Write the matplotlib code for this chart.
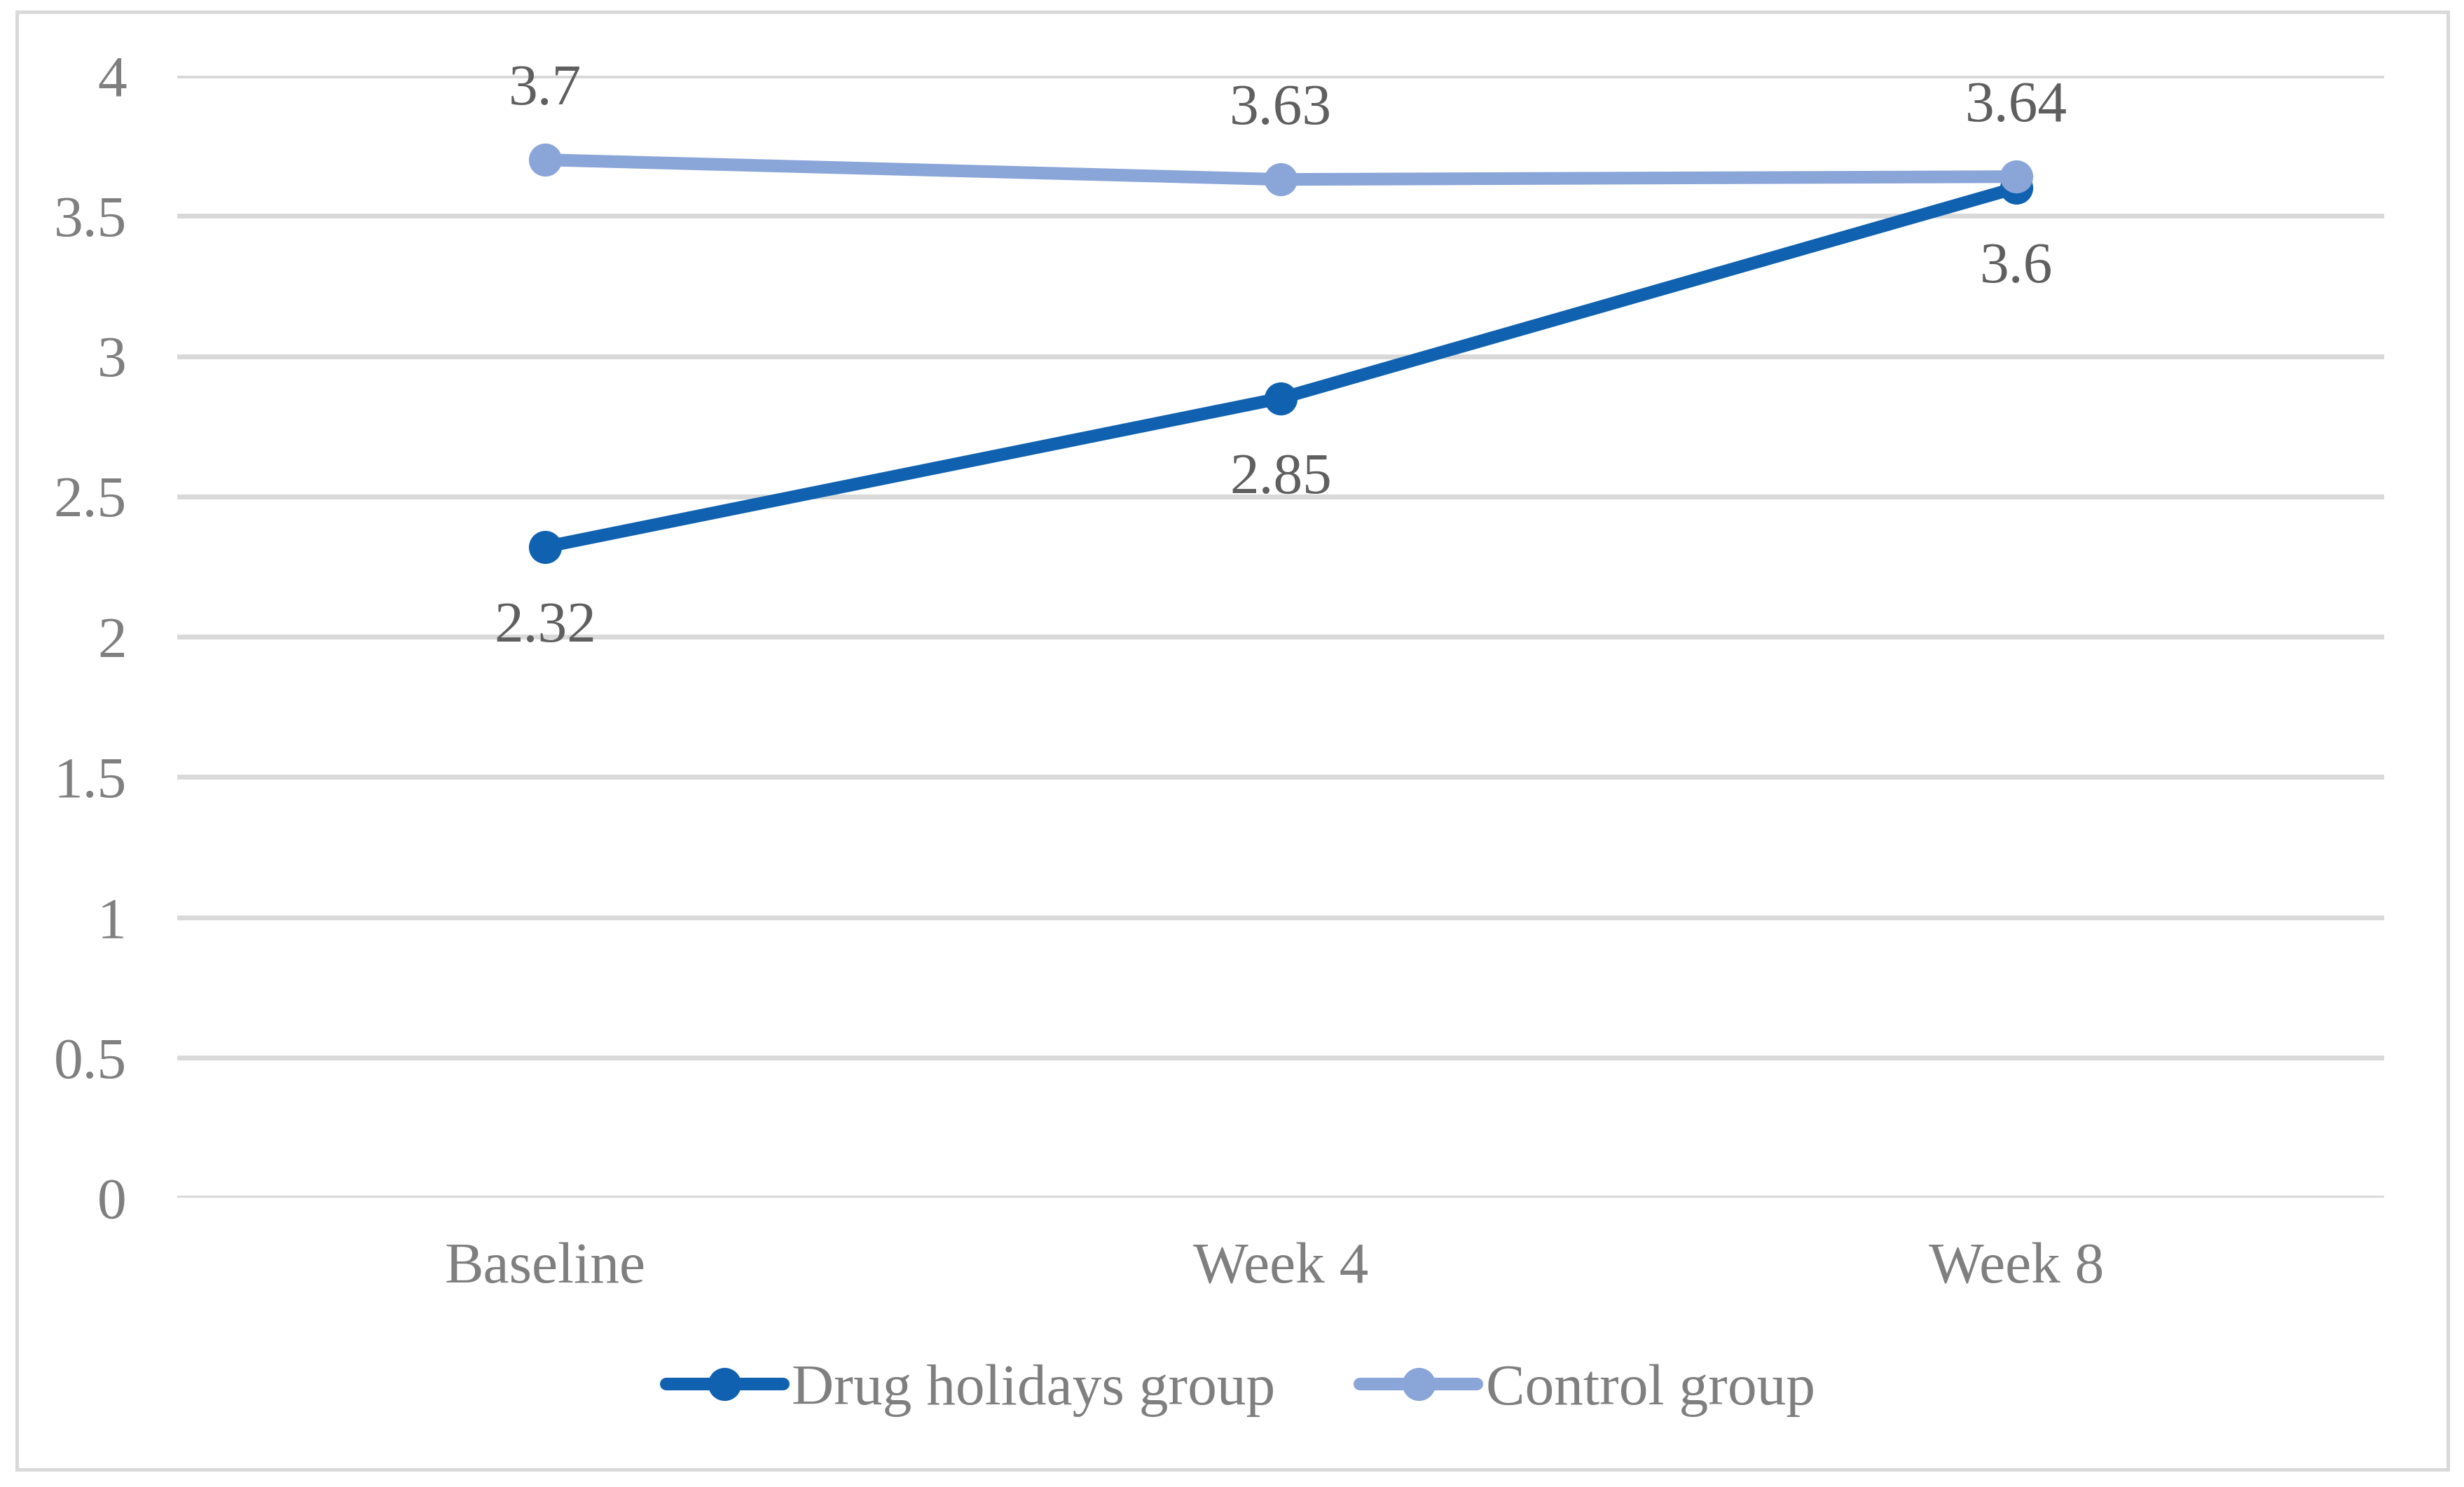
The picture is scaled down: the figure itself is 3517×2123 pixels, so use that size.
import matplotlib
matplotlib.use("Agg")
import matplotlib.pyplot as plt
from matplotlib.patches import Rectangle

categories = ["Baseline", "Week 4", "Week 8"]
drug_values = [2.32, 2.85, 3.6]
control_values = [3.7, 3.63, 3.64]
drug_labels = ["2.32", "2.85", "3.6"]
control_labels = ["3.7", "3.63", "3.64"]
y_ticks = [0, 0.5, 1, 1.5, 2, 2.5, 3, 3.5, 4]
y_tick_labels = ["0", "0.5", "1", "1.5", "2", "2.5", "3", "3.5", "4"]

plt.rcParams['font.family'] = ['Liberation Serif', 'DejaVu Serif']

W, H = 3517, 2123
fig = plt.figure(figsize=(W / 100, H / 100), dpi=100)
ax = fig.add_axes([253 / W, 1 - 1710 / H, (3403 - 253) / W, (1710 - 108) / H])

dark = "#1062B0"
light = "#8AA5D8"
grid_c = "#D9D9D9"
tick_c = "#7F7F7F"
lab_c = "#5F5F5F"
fs = 60

x = list(range(len(categories)))
ax.plot(x, drug_values, color=dark, lw=13, marker='o', ms=33,
        solid_capstyle='round', label="Drug holidays group", zorder=3)
ax.plot(x, control_values, color=light, lw=13, marker='o', ms=33,
        solid_capstyle='round', label="Control group", zorder=4)

for xi, v, t in zip(x, drug_values, drug_labels):
    ax.annotate(t, (xi, v), xytext=(0, -56), textcoords='offset points',
                ha='center', va='top', fontsize=fs, color=lab_c)
for xi, v, t in zip(x, control_values, control_labels):
    ax.annotate(t, (xi, v), xytext=(0, 57), textcoords='offset points',
                ha='center', va='baseline', fontsize=fs, color=lab_c)

ax.set_xlim(-0.5, 2.5)
ax.set_ylim(0, 4)
ax.set_yticks(y_ticks)
ax.set_yticklabels(y_tick_labels)
ax.set_xticks(x)
ax.set_xticklabels(categories)
ax.tick_params(axis='both', length=0, labelsize=fs, labelcolor=tick_c)
ax.tick_params(axis='y', pad=52)
ax.tick_params(axis='x', pad=46)
ax.grid(axis='y', color=grid_c, lw=5)
ax.set_axisbelow(True)
for s in ax.spines.values():
    s.set_visible(False)

leg = ax.legend(loc='center', bbox_to_anchor=(0.5035, 1 - 1985 / H),
                bbox_transform=fig.transFigure, ncol=2, frameon=False,
                fontsize=fs, handlelength=2.0, handletextpad=0.15,
                columnspacing=1.45, numpoints=1)
for t in leg.get_texts():
    t.set_color(tick_c)

fig.patches.append(Rectangle((24 / W, 1 - 2098 / H), (3494 - 24) / W, (2098 - 17) / H,
                             transform=fig.transFigure, fill=False,
                             edgecolor=grid_c, lw=3.5))

fig.savefig("out.png", dpi=100)
